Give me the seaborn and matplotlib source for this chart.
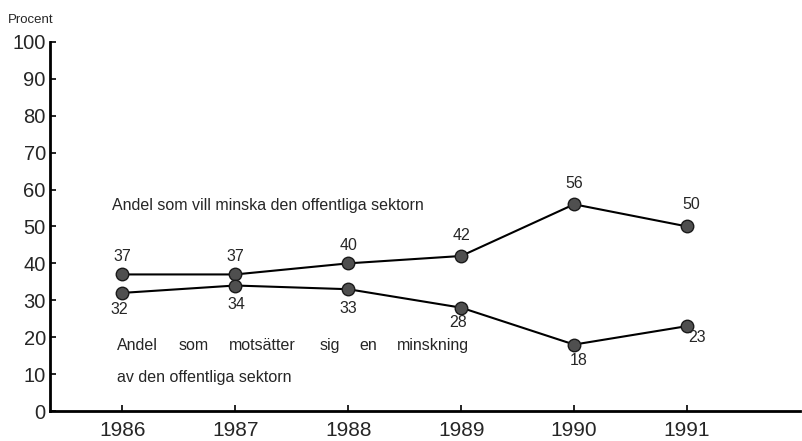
import pandas as pd
import matplotlib
matplotlib.use('Agg')
import matplotlib.pyplot as plt
import seaborn as sns

years = [1986, 1987, 1988, 1989, 1990, 1991]
minska = [37, 37, 40, 42, 56, 50]
motsatter = [32, 34, 33, 28, 18, 23]
y_ticks = [0, 10, 20, 30, 40, 50, 60, 70, 80, 90, 100]

df = pd.DataFrame({
    'År': years * 2,
    'Procent': minska + motsatter,
    'Serie': ['minska'] * len(years) + ['motsatter'] * len(years),
})

sns.set_style('ticks')
plt.rcParams['font.family'] = ['Liberation Sans', 'DejaVu Sans']

fig = plt.figure(figsize=(8.03, 4.41), dpi=100)
ax = fig.add_axes([0.0623, 0.068, 0.934, 0.837])

sns.lineplot(data=df, x='År', y='Procent', units='Serie', estimator=None,
             color='black', linewidth=1.5, marker='o', markersize=9,
             markerfacecolor='#4f4f4f', markeredgecolor='#1a1a1a',
             markeredgewidth=1.0, ax=ax)

# value labels
offs_up = [(0, 18), (0, 18), (0, 18), (0, 20), (0, 21), (4, 22)]
offs_dn = [(-3, -17), (1, -19), (0, -19), (-3, -15), (5, -16), (10, -11)]
for x, v, o in zip(years, minska, offs_up):
    ax.annotate(str(v), (x, v), xytext=o, textcoords='offset pixels',
                ha='center', va='center', fontsize=11.5)
for x, v, o in zip(years, motsatter, offs_dn):
    ax.annotate(str(v), (x, v), xytext=o, textcoords='offset pixels',
                ha='center', va='center', fontsize=11.5)

ax.text(1985.91, 55.6, 'Andel som vill minska den offentliga sektorn',
        fontsize=11.5, va='center', ha='left')
words = ['Andel', 'som', 'motsätter', 'sig', 'en', 'minskning']
word_x = [1985.955, 1986.50, 1986.94, 1987.75, 1988.10, 1988.43]
for wx, w in zip(word_x, words):
    ax.text(wx, 17.7, w, fontsize=11.5, va='center', ha='left')
ax.text(1985.955, 9.0, 'av den offentliga sektorn', fontsize=11.5,
        va='center', ha='left')

ax.set_xlim(1985.36, 1992.0)
ax.set_ylim(0, 100)
ax.set_xticks(years)
ax.set_xticklabels([str(y) for y in years], fontsize=15)
ax.set_yticks(y_ticks)
ax.set_yticklabels([str(t) for t in y_ticks], fontsize=14.5)
ax.tick_params(axis='both', direction='in', length=4, width=1.2, color='black')
ax.tick_params(axis='x', pad=7)
ax.tick_params(axis='y', pad=3)
ax.set_xlabel('')
ax.set_ylabel('')
sns.despine(ax=ax)
for s in ['left', 'bottom']:
    ax.spines[s].set_linewidth(2)
    ax.spines[s].set_color('black')

fig.text(0.01, 0.955, 'Procent', fontsize=9.5, ha='left', va='center')

fig.savefig('out.png', dpi=100)
